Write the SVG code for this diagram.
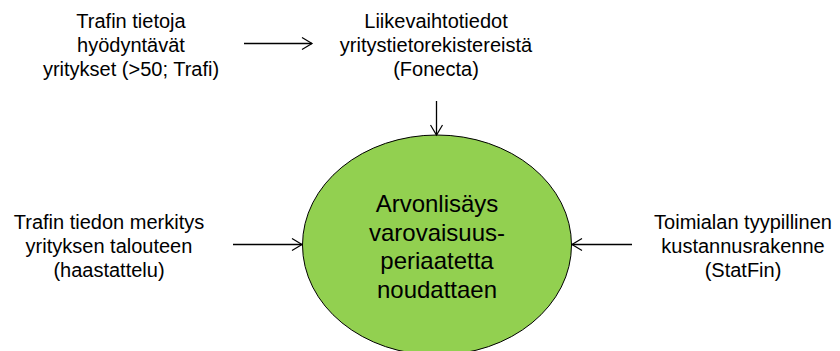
<svg xmlns="http://www.w3.org/2000/svg" width="840" height="351" viewBox="0 0 840 351">
<style>
text{font-family:"Liberation Sans",Arial,sans-serif;fill:#000;text-anchor:middle}
.s{font-size:20px}
.b{font-size:24px}
.c{stroke:#000;stroke-width:1.3;fill:none;marker-end:url(#ah)}
</style>
<defs>
<marker id="ah" markerWidth="14" markerHeight="14" refX="11" refY="7" orient="auto" markerUnits="userSpaceOnUse">
<path d="M1,1 L11,7 L1,13" fill="none" stroke="#000" stroke-width="1.2"/>
</marker>
</defs>
<rect width="840" height="351" fill="#fff"/>
<g id="n-trafi-users">
<text class="s" x="131" y="28">Trafin tietoja</text>
<text class="s" x="131" y="52">hyödyntävät</text>
<text class="s" x="131" y="76">yritykset (&gt;50; Trafi)</text>
</g>
<g id="n-fonecta">
<text class="s" x="436" y="28">Liikevaihtotiedot</text>
<text class="s" x="436" y="52">yritystietorekistereistä</text>
<text class="s" x="436" y="76">(Fonecta)</text>
</g>
<g id="n-interview">
<text class="s" x="109" y="229">Trafin tiedon merkitys</text>
<text class="s" x="109" y="253">yrityksen talouteen</text>
<text class="s" x="109" y="277">(haastattelu)</text>
</g>
<g id="n-statfin">
<text class="s" x="743" y="229">Toimialan tyypillinen</text>
<text class="s" x="743" y="253">kustannusrakenne</text>
<text class="s" x="743" y="277">(StatFin)</text>
</g>
<g id="n-center">
<ellipse cx="437" cy="245" rx="134.5" ry="110" fill="#92d050" stroke="#000" stroke-width="1"/>
<text class="b" x="437" y="212">Arvonlisäys</text>
<text class="b" x="437" y="240.5">varovaisuus-</text>
<text class="b" x="437" y="269">periaatetta</text>
<text class="b" x="437" y="298">noudattaen</text>
</g>
<g id="connectors">
<line class="c" x1="244" y1="43.5" x2="312" y2="43.5"/>
<line class="c" x1="436.5" y1="101" x2="436.5" y2="135"/>
<line class="c" x1="233" y1="244.5" x2="302" y2="244.5"/>
<line class="c" x1="632" y1="244.5" x2="572" y2="244.5"/>
</g>
</svg>
